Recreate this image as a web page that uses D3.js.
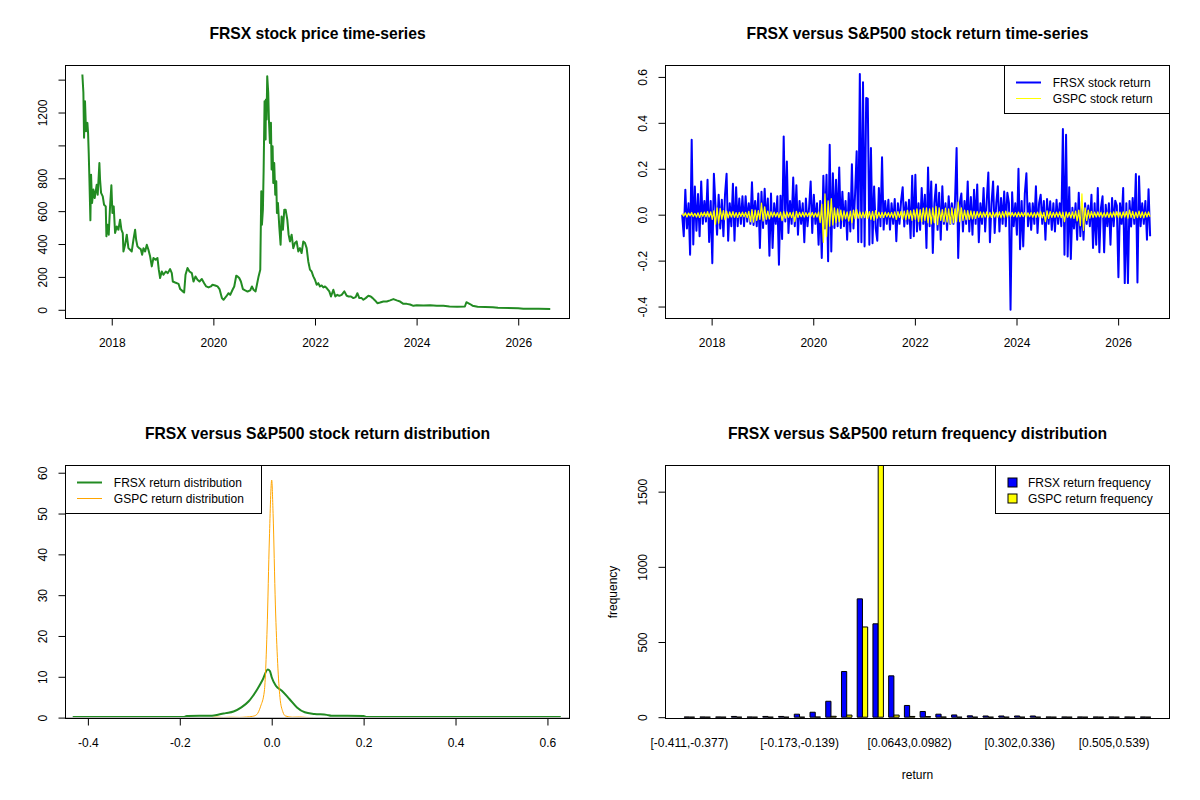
<!DOCTYPE html>
<html>
<head>
<meta charset="utf-8">
<script src="https://cdn.jsdelivr.net/npm/d3@7"></script>
<style>
  body { margin: 0; background: #fff; }
  text { font-family: Arial, 'Liberation Sans', sans-serif; }
</style>
</head>
<body>
<div id="chart"></div>
<script>
// ---- data ----

// FRSX price, [decimal year, price]
const frsxPrice = [
  [2017.422, 1431], [2017.442, 1320], [2017.455, 1046], [2017.474, 1269], [2017.494, 1086],
  [2017.521, 1137], [2017.534, 1076], [2017.547, 954], [2017.560, 802], [2017.580, 544],
  [2017.593, 822], [2017.613, 650], [2017.639, 731], [2017.665, 680], [2017.704, 761],
  [2017.724, 700], [2017.757, 893], [2017.770, 792], [2017.790, 711], [2017.823, 690],
  [2017.849, 639], [2017.882, 629], [2017.895, 447], [2017.915, 518], [2017.941, 457],
  [2017.967, 629], [2017.993, 757], [2018.013, 589], [2018.039, 629], [2018.066, 467],
  [2018.099, 507], [2018.131, 487], [2018.164, 548], [2018.190, 487], [2018.217, 467],
  [2018.230, 355], [2018.263, 396], [2018.296, 457], [2018.328, 375], [2018.361, 365],
  [2018.394, 355], [2018.427, 426], [2018.460, 487], [2018.480, 426], [2018.506, 386],
  [2018.539, 375], [2018.571, 369], [2018.598, 335], [2018.624, 375], [2018.657, 355],
  [2018.690, 396], [2018.722, 365], [2018.755, 325], [2018.788, 264], [2018.821, 315],
  [2018.861, 304], [2018.900, 315], [2018.926, 244], [2018.952, 193], [2018.985, 233],
  [2019.018, 213], [2019.064, 233], [2019.103, 223], [2019.149, 248], [2019.182, 223],
  [2019.202, 172], [2019.248, 166], [2019.314, 158], [2019.347, 126], [2019.399, 112],
  [2019.425, 105], [2019.452, 213], [2019.491, 254], [2019.530, 233], [2019.576, 223],
  [2019.609, 172], [2019.649, 203], [2019.688, 183], [2019.727, 172], [2019.773, 187],
  [2019.819, 162], [2019.859, 142], [2019.905, 136], [2019.951, 142], [2019.983, 152],
  [2020.036, 148], [2020.082, 142], [2020.121, 126], [2020.168, 71], [2020.200, 61],
  [2020.253, 81], [2020.299, 101], [2020.332, 91], [2020.378, 122], [2020.411, 142],
  [2020.450, 207], [2020.476, 203], [2020.509, 193], [2020.542, 172], [2020.581, 126],
  [2020.627, 118], [2020.673, 111], [2020.726, 118], [2020.759, 142], [2020.791, 122],
  [2020.831, 112], [2020.857, 152], [2020.890, 203], [2020.923, 244], [2020.943, 721],
  [2020.956, 518], [2020.975, 609], [2020.989, 843], [2021.008, 1269], [2021.028, 1036],
  [2021.034, 1279], [2021.047, 1157], [2021.060, 1421], [2021.080, 1320], [2021.093, 1157],
  [2021.113, 1015], [2021.133, 1137], [2021.146, 853], [2021.166, 995], [2021.179, 771],
  [2021.198, 893], [2021.218, 700], [2021.238, 782], [2021.251, 589], [2021.271, 650],
  [2021.297, 507], [2021.323, 396], [2021.343, 568], [2021.369, 487], [2021.396, 609],
  [2021.422, 609], [2021.455, 548], [2021.481, 457], [2021.507, 416], [2021.540, 457],
  [2021.573, 375], [2021.606, 406], [2021.639, 416], [2021.671, 355], [2021.704, 375],
  [2021.737, 345], [2021.770, 416], [2021.803, 406], [2021.836, 375], [2021.868, 294],
  [2021.901, 244], [2021.934, 233], [2021.967, 203], [2022.000, 183], [2022.033, 152],
  [2022.065, 162], [2022.098, 142], [2022.131, 148], [2022.164, 136], [2022.197, 142],
  [2022.230, 132], [2022.282, 112], [2022.315, 81], [2022.361, 122], [2022.400, 81],
  [2022.440, 91], [2022.479, 85], [2022.525, 91], [2022.578, 112], [2022.624, 85],
  [2022.663, 81], [2022.709, 81], [2022.755, 71], [2022.801, 77], [2022.834, 101],
  [2022.873, 71], [2022.919, 71], [2022.952, 61], [2022.998, 71], [2023.051, 85],
  [2023.097, 81], [2023.136, 71], [2023.182, 57], [2023.228, 40], [2023.281, 44],
  [2023.346, 50], [2023.412, 50], [2023.478, 57], [2023.543, 65], [2023.609, 57],
  [2023.675, 50], [2023.740, 36], [2023.806, 36], [2023.872, 32], [2023.937, 24],
  [2024.003, 28], [2024.135, 26], [2024.266, 28], [2024.397, 24], [2024.528, 24],
  [2024.647, 20], [2024.800, 18], [2024.950, 20], [2024.980, 46], [2025.050, 35],
  [2025.100, 25], [2025.200, 18], [2025.500, 16], [2025.600, 12], [2026.000, 10],
  [2026.100, 7], [2026.400, 6], [2026.630, 5]
];

// daily returns, sampled evenly from returnStart to returnEnd
const returnStart = 2017.42;
const returnEnd = 2026.63;
const frsxReturns = [
  0.00, -0.094, 0.109, -0.06, 0.05, -0.174, 0.326, -0.13, 0.123, -0.07,
  0.09, -0.094, 0.145, -0.04, 0.06, -0.03, 0.152, -0.119, 0.06, -0.211,
  0.178, 0.04, -0.087, 0.087, -0.06, 0.065, -0.094, 0.087, 0.178, -0.113,
  0.05, -0.05, 0.135, -0.113, 0.12, -0.05, 0.07, -0.04, 0.08, -0.05,
  0.08, -0.03, 0.05, -0.04, 0.141, -0.045, 0.06, -0.05, 0.092, -0.145,
  0.10, -0.058, 0.113, -0.04, 0.07, -0.179, 0.092, -0.145, 0.05, -0.04,
  0.08, -0.218, 0.083, -0.106, 0.341, -0.03, 0.232, -0.08, 0.06, -0.04,
  0.162, -0.05, 0.128, -0.087, 0.06, -0.04, 0.05, -0.12, 0.07, -0.05,
  0.03, 0.145, -0.08, 0.087, -0.04, 0.05, -0.131, 0.06, -0.189, 0.17,
  -0.06, 0.174, -0.203, 0.305, -0.16, 0.18, -0.058, 0.152, -0.05, 0.206,
  -0.058, 0.10, -0.05, 0.06, -0.109, 0.094, -0.073, 0.22, -0.06, 0.09,
  0.276, -0.119, 0.613, -0.12, 0.577, -0.138, 0.508, 0.505, -0.131, 0.29,
  -0.124, 0.123, -0.06, -0.113, 0.116, -0.05, 0.25, -0.065, 0.06, -0.04,
  0.065, -0.065, 0.05, -0.04, 0.068, -0.116, 0.05, -0.04, 0.06, 0.12,
  -0.051, 0.054, -0.04, 0.065, -0.102, 0.17, -0.094, 0.174, -0.073, 0.05,
  -0.066, 0.116, -0.04, 0.087, -0.145, 0.206, -0.05, 0.145, -0.167, 0.05,
  0.131, -0.066, 0.095, -0.109, 0.124, -0.04, 0.05, -0.066, 0.08, -0.04,
  0.05, -0.04, 0.06, 0.29, -0.189, 0.05, 0.092, -0.073, 0.06, -0.04,
  0.145, -0.073, 0.077, -0.087, 0.109, -0.04, 0.131, -0.12, 0.05, -0.04,
  0.116, -0.073, 0.06, 0.184, -0.12, 0.05, 0.145, -0.08, 0.05, 0.124,
  -0.073, 0.073, -0.04, 0.101, -0.05, 0.095, 0.05, -0.414, 0.098, -0.05,
  0.05, -0.087, 0.2, -0.15, 0.06, -0.138, 0.092, 0.18, -0.05, 0.05,
  -0.066, 0.05, -0.04, 0.124, -0.08, 0.05, 0.087, -0.04, 0.06, -0.109,
  0.068, -0.04, 0.058, -0.066, 0.05, -0.073, 0.065, -0.04, 0.05, -0.05,
  0.373, -0.174, 0.348, -0.182, 0.12, -0.193, 0.03, -0.06, 0.05, -0.109,
  0.095, -0.094, 0.036, -0.109, 0.05, -0.04, 0.04, -0.05, 0.087, -0.145,
  0.05, -0.131, 0.116, -0.164, 0.03, 0.08, -0.164, 0.043, -0.05, 0.05,
  -0.131, 0.073, -0.05, 0.061, 0.04, -0.272, 0.05, -0.04, 0.116, -0.298,
  0.05, -0.298, 0.06, -0.051, 0.073, -0.04, 0.177, -0.295, 0.167, -0.05,
  0.05, -0.04, 0.06, -0.109, 0.111, -0.094
];
const gspcReturns = [
  0.005, -0.006, 0.008, -0.01, 0.007, -0.005, 0.009, -0.008, 0.006, -0.01,
  0.008, -0.012, 0.01, -0.007, 0.011, -0.009, 0.013, -0.01, 0.012, -0.02,
  0.016, -0.041, 0.03, -0.037, 0.027, -0.02, 0.018, -0.022, 0.015, -0.014,
  0.012, -0.01, 0.013, -0.011, 0.009, -0.012, 0.01, -0.008, 0.011, -0.009,
  0.01, -0.013, 0.014, -0.03, 0.022, -0.032, 0.02, -0.025, 0.018, -0.02,
  0.05, -0.027, 0.034, -0.02, 0.015, -0.018, 0.012, -0.01, 0.011, -0.009,
  0.009, -0.012, 0.011, -0.026, 0.013, -0.015, 0.012, -0.011, 0.01, -0.013,
  0.011, -0.03, 0.014, -0.012, 0.01, -0.009, 0.011, -0.01, 0.009, -0.008,
  0.008, -0.009, 0.01, -0.011, 0.008, -0.01, 0.012, -0.034, 0.046, -0.12,
  0.09, -0.095, 0.06, -0.05, 0.07, -0.045, 0.03, -0.035, 0.025, -0.03,
  0.02, -0.025, 0.016, -0.018, 0.012, -0.028, 0.015, -0.035, 0.02, -0.017,
  0.022, -0.015, 0.012, -0.014, 0.011, -0.013, 0.015, -0.016, 0.013, -0.02,
  0.014, -0.025, 0.018, -0.015, 0.011, -0.013, 0.01, -0.012, 0.011, -0.009,
  0.009, -0.011, 0.01, -0.014, 0.012, -0.02, 0.013, -0.012, 0.014, -0.019,
  0.015, -0.022, 0.02, -0.018, 0.017, -0.025, 0.021, -0.02, 0.025, -0.03,
  0.022, -0.03, 0.028, -0.025, 0.03, -0.035, 0.025, -0.04, 0.03, -0.035,
  0.035, -0.043, 0.03, -0.025, 0.022, -0.03, 0.028, -0.032, 0.025, -0.04,
  0.03, -0.035, 0.025, -0.03, 0.055, -0.03, 0.03, -0.025, 0.02, -0.022,
  0.018, -0.02, 0.016, -0.018, 0.014, -0.016, 0.013, -0.012, 0.012, -0.013,
  0.011, -0.01, 0.012, -0.011, 0.01, -0.012, 0.011, -0.01, 0.009, -0.011,
  0.012, -0.014, 0.013, -0.012, 0.015, -0.01, 0.011, -0.009, 0.01, -0.008,
  0.009, -0.01, 0.011, -0.009, 0.01, -0.008, 0.009, -0.01, 0.008, -0.009,
  0.01, -0.011, 0.009, -0.012, 0.011, -0.01, 0.012, -0.014, 0.01, -0.03,
  0.017, -0.016, 0.013, -0.012, 0.01, -0.011, 0.011, -0.01, 0.012, -0.013,
  0.011, -0.03, 0.012, -0.011, 0.01, -0.014, 0.012, -0.016, 0.015, -0.027,
  0.02, -0.048, 0.091, -0.068, 0.03, -0.025, 0.02, -0.015, 0.014, -0.012,
  0.011, -0.01, 0.012, -0.009, 0.01, -0.011, 0.009, -0.01, 0.011, -0.012,
  0.01, -0.011, 0.012, -0.01, 0.013, -0.012, 0.011, -0.014, 0.012, -0.01,
  0.013, -0.015, 0.02, -0.012, 0.014, -0.016, 0.011, -0.013, 0.015, -0.012,
  0.012, -0.014, 0.011, -0.01, 0.012, -0.009
];

// kernel density estimates, [return, density]
const frsxDensity = [
  [-0.433, 0.17], [-0.30, 0.17], [-0.19, 0.17], [-0.185, 0.42], [-0.13, 0.45],
  [-0.115, 0.75], [-0.10, 1.1], [-0.083, 1.5], [-0.066, 2.5], [-0.05, 4.0],
  [-0.041, 5.3], [-0.031, 7.0], [-0.02, 9.2], [-0.0085, 11.8], [-0.004, 11.4],
  [0.0, 9.9], [0.009, 7.8], [0.022, 6.6], [0.039, 4.5], [0.055, 2.5],
  [0.072, 1.3], [0.093, 0.9], [0.12, 0.67], [0.13, 0.45], [0.20, 0.42],
  [0.205, 0.17], [0.40, 0.17], [0.629, 0.17]
];
const gspcDensity = [
  [-0.13, 0.0], [-0.12, 0.12], [-0.105, 0.03], [-0.09, 0.1], [-0.07, 0.05],
  [-0.055, 0.15], [-0.042, 0.3], [-0.033, 0.7], [-0.024, 2.8], [-0.016, 6.5],
  [-0.01, 21.7], [-0.005, 44], [0.0, 58.2], [0.003, 50], [0.008, 27.6],
  [0.013, 13.3], [0.018, 4.9], [0.024, 1.5], [0.03, 0.4], [0.045, 0.1],
  [0.06, 0.15], [0.075, 0.05], [0.09, 0.0]
];

// return frequency per bin (30 equal bins)
const binLabels = [
  '[-0.411,-0.377)', '[-0.377,-0.343)', '[-0.343,-0.309)', '[-0.309,-0.275)', '[-0.275,-0.241)',
  '[-0.241,-0.207)', '[-0.207,-0.173)', '[-0.173,-0.139)', '[-0.139,-0.105)', '[-0.105,-0.0715)',
  '[-0.0715,-0.0376)', '[-0.0376,-0.0036)', '[-0.0036,0.0304)', '[0.0304,0.0643)', '[0.0643,0.0982)',
  '[0.0982,0.132)', '[0.132,0.166)', '[0.166,0.2)', '[0.2,0.234)', '[0.234,0.268)',
  '[0.268,0.302)', '[0.302,0.336)', '[0.336,0.37)', '[0.37,0.404)', '[0.404,0.438)',
  '[0.438,0.472)', '[0.472,0.505)', '[0.505,0.539)', '[0.539,0.573)', '[0.573,0.607]'
];
const shownBins = [0, 7, 14, 21, 27];
const frsxFreq = [1, 1, 1, 5, 1, 5, 5, 20, 33, 106, 304, 787, 621, 275, 78, 38, 20, 15, 9, 8, 8, 8, 8, 1, 1, 1, 1, 1, 1, 1];
const gspcFreq = [0, 0, 0, 0, 0, 0, 0, 0, 1, 6, 14, 600, 1719, 14, 5, 4, 1, 0, 0, 0, 0, 0, 0, 0, 0, 0, 0, 0, 0, 0];

const yearTicks = [2018, 2020, 2022, 2024, 2026];

// ---- drawing ----
const W = 1200, H = 800;
const svg = d3.select('#chart').append('svg')
  .attr('width', W).attr('height', H)
  .style('background', '#fff');

const FONT = 12;

function makePanel(id, box, title) {
  const g = svg.append('g');
  svg.append('clipPath').attr('id', id)
    .append('rect')
    .attr('x', box.x0).attr('y', box.y0)
    .attr('width', box.x1 - box.x0).attr('height', box.y1 - box.y0);
  g.append('text')
    .attr('x', (box.x0 + box.x1) / 2)
    .attr('y', box.y0 - 27)
    .attr('text-anchor', 'middle')
    .style('font-size', '15.7px')
    .style('font-weight', 'bold')
    .text(title);
  return g;
}

function drawBox(g, box) {
  g.append('rect')
    .attr('x', box.x0).attr('y', box.y0)
    .attr('width', box.x1 - box.x0).attr('height', box.y1 - box.y0)
    .attr('fill', 'none').attr('stroke', '#000').attr('stroke-width', 1);
}

function bottomAxis(g, box, scale, ticks, fmt) {
  const ax = g.append('g')
    .attr('transform', `translate(0,${box.y1})`)
    .call(d3.axisBottom(scale).tickValues(ticks).tickFormat(fmt).tickSize(7).tickPadding(13).tickSizeOuter(0));
  ax.select('.domain').remove();
  ax.selectAll('line').attr('stroke', '#000');
  ax.selectAll('text').attr('fill', '#000').style('font-size', FONT + 'px')
    .attr('font-family', null);
  return ax;
}

function leftAxis(g, box, scale, ticks, fmt) {
  const ax = g.append('g')
    .attr('transform', `translate(${box.x0},0)`)
    .call(d3.axisLeft(scale).tickValues(ticks).tickFormat(fmt).tickSize(7).tickSizeOuter(0));
  ax.select('.domain').remove();
  ax.selectAll('line').attr('stroke', '#000');
  ax.selectAll('text')
    .attr('x', null).attr('dy', null)
    .attr('transform', 'translate(-18.5,0) rotate(-90)')
    .attr('text-anchor', 'middle')
    .attr('fill', '#000').style('font-size', FONT + 'px')
    .attr('font-family', null);
  return ax;
}

function legend(g, box, entries, symbol) {
  const lg = g.append('g');
  lg.append('rect')
    .attr('x', box.x0).attr('y', box.y0)
    .attr('width', box.x1 - box.x0).attr('height', box.y1 - box.y0)
    .attr('fill', '#fff').attr('stroke', '#000');
  entries.forEach((e, i) => {
    const cy = box.y0 + 17 + i * 16;
    if (symbol === 'line') {
      lg.append('line')
        .attr('x1', box.x0 + 11.5).attr('x2', box.x0 + 36.5)
        .attr('y1', cy).attr('y2', cy)
        .attr('stroke', e.color).attr('stroke-width', e.width);
    } else {
      lg.append('rect')
        .attr('x', box.x0 + 12.5).attr('y', cy - 4.5)
        .attr('width', 9).attr('height', 9)
        .attr('fill', e.color).attr('stroke', '#000');
    }
    lg.append('text')
      .attr('x', e.textX).attr('y', cy + 4.3)
      .style('font-size', FONT + 'px')
      .text(e.label);
  });
}

const fmt1 = (v) => v.toFixed(1);

// -------- panel 1: price --------
{
  const box = { x0: 65.5, x1: 569.5, y0: 65.5, y1: 318.5 };
  const g = makePanel('clip1', box, 'FRSX stock price time-series');
  const x = d3.scaleLinear().domain([2017.090, 2027.009]).range([box.x0, box.x1]);
  const y = d3.scaleLinear().domain([-53, 1486]).range([box.y1, box.y0]);

  g.append('path')
    .datum(frsxPrice)
    .attr('clip-path', 'url(#clip1)')
    .attr('fill', 'none')
    .attr('stroke', '#228B22')
    .attr('stroke-width', 2)
    .attr('stroke-linejoin', 'round')
    .attr('d', d3.line().x((d) => x(d[0])).y((d) => y(d[1])));

  bottomAxis(g, box, x, yearTicks, d3.format('d'));
  leftAxis(g, box, y, d3.range(0, 1401, 200), (v) => (v === 1000 || v === 1400 ? '' : String(v)));
  drawBox(g, box);
}

// -------- panel 2: returns --------
{
  const box = { x0: 665.5, x1: 1169.5, y0: 65.5, y1: 318.5 };
  const g = makePanel('clip2', box, 'FRSX versus S&P500 stock return time-series');
  const x = d3.scaleLinear().domain([2017.092, 2027.011]).range([box.x0, box.x1]);
  const y = d3.scaleLinear().domain([-0.4521, 0.6497]).range([box.y1, box.y0]);
  const tOf = (n) => d3.scaleLinear().domain([0, n - 1]).range([returnStart, returnEnd]);

  const tf = tOf(frsxReturns.length);
  g.append('path')
    .datum(frsxReturns)
    .attr('clip-path', 'url(#clip2)')
    .attr('fill', 'none')
    .attr('stroke', '#0000FF')
    .attr('stroke-width', 2)
    .attr('stroke-linejoin', 'round')
    .attr('d', d3.line().x((d, i) => x(tf(i))).y((d) => y(d)));

  const tg = tOf(gspcReturns.length);
  g.append('path')
    .datum(gspcReturns)
    .attr('clip-path', 'url(#clip2)')
    .attr('fill', 'none')
    .attr('stroke', '#FFFF00')
    .attr('stroke-width', 1.3)
    .attr('stroke-linejoin', 'round')
    .attr('d', d3.line().x((d, i) => x(tg(i))).y((d) => y(d)));

  bottomAxis(g, box, x, yearTicks, d3.format('d'));
  leftAxis(g, box, y, [-0.4, -0.2, 0, 0.2, 0.4, 0.6], fmt1);
  drawBox(g, box);

  legend(g, { x0: 1004.5, x1: 1169.5, y0: 65.5, y1: 113.5 }, [
    { label: 'FRSX stock return', color: '#0000FF', width: 2, textX: 1052.7 },
    { label: 'GSPC stock return', color: '#FFFF00', width: 1, textX: 1052.7 }
  ], 'line');
}

// -------- panel 3: density --------
{
  const box = { x0: 65.5, x1: 569.5, y0: 465.5, y1: 718.5 };
  const g = makePanel('clip3', box, 'FRSX versus S&P500 stock return distribution');
  const x = d3.scaleLinear().domain([-0.4487, 0.648]).range([box.x0, box.x1]);
  const y = d3.scaleLinear().domain([-0.22, 61.77]).range([box.y1, box.y0]);
  const line = d3.line().curve(d3.curveMonotoneX).x((d) => x(d[0])).y((d) => y(d[1]));

  g.append('path')
    .datum(frsxDensity)
    .attr('clip-path', 'url(#clip3)')
    .attr('fill', 'none')
    .attr('stroke', '#228B22')
    .attr('stroke-width', 2)
    .attr('d', line);

  g.append('path')
    .datum(gspcDensity)
    .attr('clip-path', 'url(#clip3)')
    .attr('fill', 'none')
    .attr('stroke', '#FFA500')
    .attr('stroke-width', 1)
    .attr('d', line);

  // zero line
  g.append('line')
    .attr('x1', box.x0).attr('x2', box.x1)
    .attr('y1', y(0)).attr('y2', y(0))
    .attr('stroke', '#BEBEBE').attr('stroke-width', 1);

  bottomAxis(g, box, x, [-0.4, -0.2, 0, 0.2, 0.4, 0.6], fmt1);
  leftAxis(g, box, y, d3.range(0, 61, 10), d3.format('d'));
  drawBox(g, box);

  legend(g, { x0: 65.5, x1: 261.5, y0: 465.5, y1: 513.5 }, [
    { label: 'FRSX return distribution', color: '#228B22', width: 2, textX: 113.8 },
    { label: 'GSPC return distribution', color: '#FFA500', width: 1, textX: 113.8 }
  ], 'line');
}

// -------- panel 4: frequency bars --------
{
  const box = { x0: 665.5, x1: 1169.5, y0: 465.5, y1: 718.5 };
  const g = makePanel('clip4', box, 'FRSX versus S&P500 return frequency distribution');
  // bar units as in a side-by-side barplot: each group = 1 gap + 2 bars
  const u = d3.scaleLinear().domain([-2.56, 93.56]).range([box.x0, box.x1]);
  const y = d3.scaleLinear().domain([-8.7, 1674]).range([box.y1, box.y0]);

  const bars = [];
  frsxFreq.forEach((v, k) => bars.push({ k, left: 1 + 3 * k, v, color: '#0000FF' }));
  gspcFreq.forEach((v, k) => bars.push({ k, left: 2 + 3 * k, v, color: '#FFFF00' }));

  g.append('g')
    .attr('clip-path', 'url(#clip4)')
    .selectAll('path')
    .data(bars)
    .join('path')
    .attr('d', (d) => {
      const x0 = u(d.left), x1 = u(d.left + 1), y0 = y(0), y1 = y(d.v);
      return `M${x0},${y0}V${y1}H${x1}V${y0}Z`;
    })
    .attr('fill', (d) => d.color)
    .attr('stroke', '#000')
    .attr('stroke-width', 1);

  // group labels (only those that fit)
  g.append('g')
    .selectAll('text')
    .data(shownBins)
    .join('text')
    .attr('x', (k) => u(2 + 3 * k))
    .attr('y', box.y1 + 28.5)
    .attr('text-anchor', 'middle')
    .style('font-size', FONT + 'px')
    .text((k) => binLabels[k]);

  leftAxis(g, box, y, [0, 500, 1000, 1500], d3.format('d'));
  drawBox(g, box);

  g.append('text')
    .attr('x', (box.x0 + box.x1) / 2).attr('y', 779)
    .attr('text-anchor', 'middle')
    .style('font-size', FONT + 'px')
    .text('return');
  g.append('text')
    .attr('transform', `translate(617,${(box.y0 + box.y1) / 2}) rotate(-90)`)
    .attr('text-anchor', 'middle')
    .style('font-size', FONT + 'px')
    .text('frequency');

  legend(g, { x0: 995.5, x1: 1169.5, y0: 465.5, y1: 513.5 }, [
    { label: 'FRSX return frequency', color: '#0000FF', textX: 1028 },
    { label: 'GSPC return frequency', color: '#FFFF00', textX: 1028 }
  ], 'rect');
}
</script>
</body>
</html>
